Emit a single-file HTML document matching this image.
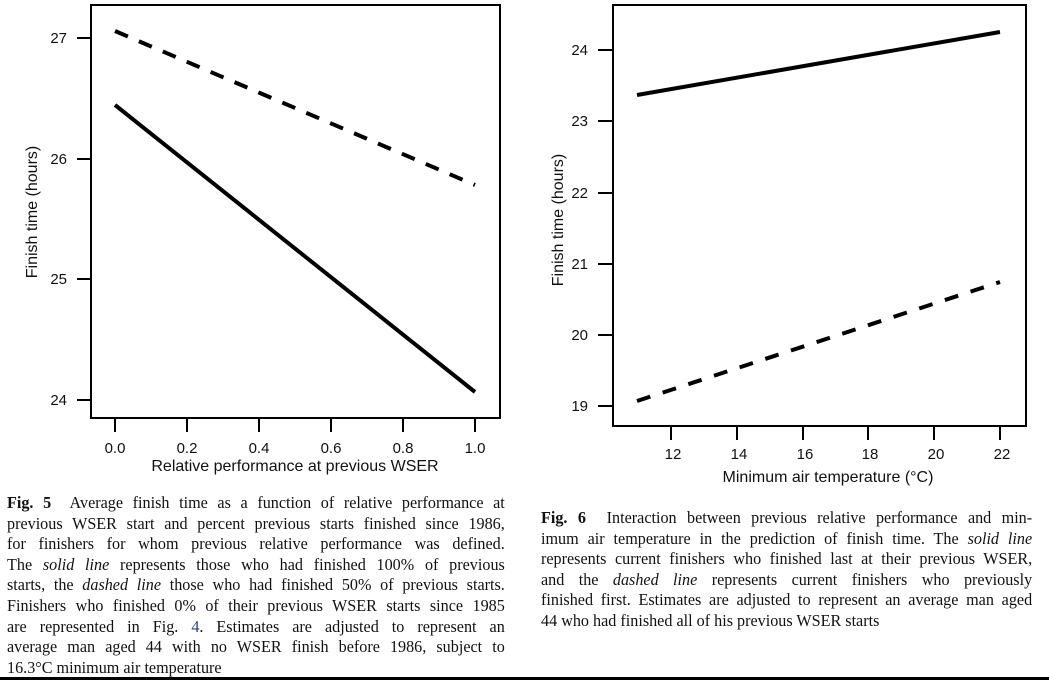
<!DOCTYPE html>
<html><head><meta charset="utf-8"><style>
html,body{margin:0;padding:0;background:#fff;}
body{width:1049px;height:680px;position:relative;overflow:hidden;}
svg{position:absolute;left:0;top:0;}
.cap{position:absolute;font-family:"Liberation Serif",serif;font-size:17px;color:#111;transform-origin:0 0;transform:scaleX(0.95);}
.cap div{text-align:justify;text-align-last:justify;white-space:nowrap;height:20.6px;line-height:20.6px;}
.cap div.l{text-align-last:left;}
</style></head><body>
<svg width="1049" height="680" font-family="Liberation Sans, sans-serif" fill="#111">
<rect x="91" y="5" width="409" height="413" fill="none" stroke="#000" stroke-width="2"/>
<g stroke="#000" stroke-width="2">
<line x1="77" y1="38" x2="91" y2="38"/><line x1="77" y1="159" x2="91" y2="159"/>
<line x1="77" y1="279" x2="91" y2="279"/><line x1="77" y1="400" x2="91" y2="400"/>
<line x1="115" y1="418" x2="115" y2="432"/><line x1="187" y1="418" x2="187" y2="432"/>
<line x1="259" y1="418" x2="259" y2="432"/><line x1="331" y1="418" x2="331" y2="432"/>
<line x1="403" y1="418" x2="403" y2="432"/><line x1="475" y1="418" x2="475" y2="432"/>
</g>
<g font-size="15" text-anchor="end">
<text x="67" y="43">27</text><text x="67" y="164">26</text><text x="67" y="284">25</text><text x="67" y="405">24</text>
</g>
<g font-size="15" text-anchor="middle">
<text x="115" y="453">0.0</text><text x="187" y="453">0.2</text><text x="259" y="453">0.4</text>
<text x="331" y="453">0.6</text><text x="403" y="453">0.8</text><text x="475" y="453">1.0</text>
<text x="295" y="471" font-size="16">Relative performance at previous WSER</text>
<text transform="translate(37,212) rotate(-90)" font-size="16">Finish time (hours)</text>
</g>
<line x1="115" y1="31" x2="475" y2="185" stroke="#000" stroke-width="4" stroke-dasharray="14,12"/>
<line x1="115" y1="105" x2="475" y2="392" stroke="#000" stroke-width="4"/>
<rect x="613" y="5" width="413" height="421" fill="none" stroke="#000" stroke-width="2"/>
<g stroke="#000" stroke-width="2">
<line x1="598" y1="50" x2="613" y2="50"/><line x1="598" y1="121" x2="613" y2="121"/>
<line x1="598" y1="193" x2="613" y2="193"/><line x1="598" y1="264" x2="613" y2="264"/>
<line x1="598" y1="335" x2="613" y2="335"/><line x1="598" y1="406" x2="613" y2="406"/>
<line x1="671" y1="426" x2="671" y2="440"/><line x1="737" y1="426" x2="737" y2="440"/>
<line x1="803" y1="426" x2="803" y2="440"/><line x1="868" y1="426" x2="868" y2="440"/>
<line x1="934" y1="426" x2="934" y2="440"/><line x1="1000" y1="426" x2="1000" y2="440"/>
</g>
<g font-size="15" text-anchor="end">
<text x="588" y="55">24</text><text x="588" y="126">23</text><text x="588" y="198">22</text>
<text x="588" y="269">21</text><text x="588" y="340">20</text><text x="588" y="411">19</text>
</g>
<g font-size="15" text-anchor="middle">
<text x="673" y="459">12</text><text x="739" y="459">14</text><text x="805" y="459">16</text>
<text x="870" y="459">18</text><text x="936" y="459">20</text><text x="1002" y="459">22</text>
<text x="828" y="482" font-size="16">Minimum air temperature (°C)</text>
<text transform="translate(563,220) rotate(-90)" font-size="16">Finish time (hours)</text>
</g>
<line x1="637" y1="95" x2="1000" y2="32" stroke="#000" stroke-width="4"/>
<line x1="637" y1="401" x2="1000" y2="282" stroke="#000" stroke-width="4" stroke-dasharray="14,13"/>
<rect x="0" y="677" width="1049" height="3" fill="#000"/>
</svg>
<div class="cap" style="left:7px;top:493px;width:524px;">
<div><b>Fig. 5</b>&nbsp; Average finish time as a function of relative performance at</div>
<div>previous WSER start and percent previous starts finished since 1986,</div>
<div>for finishers for whom previous relative performance was defined.</div>
<div>The <i>solid line</i> represents those who had finished 100% of previous</div>
<div>starts, the <i>dashed line</i> those who had finished 50% of previous starts.</div>
<div>Finishers who finished 0% of their previous WSER starts since 1985</div>
<div>are represented in Fig. <span style="color:#2a3f9a">4</span>. Estimates are adjusted to represent an</div>
<div>average man aged 44 with no WSER finish before 1986, subject to</div>
<div class="l">16.3°C minimum air temperature</div>
</div>
<div class="cap" style="left:541px;top:508px;width:517px;">
<div><b>Fig. 6</b>&nbsp; Interaction between previous relative performance and min-</div>
<div>imum air temperature in the prediction of finish time. The <i>solid line</i></div>
<div>represents current finishers who finished last at their previous WSER,</div>
<div>and the <i>dashed line</i> represents current finishers who previously</div>
<div>finished first. Estimates are adjusted to represent an average man aged</div>
<div class="l">44 who had finished all of his previous WSER starts</div>
</div>
</body></html>
